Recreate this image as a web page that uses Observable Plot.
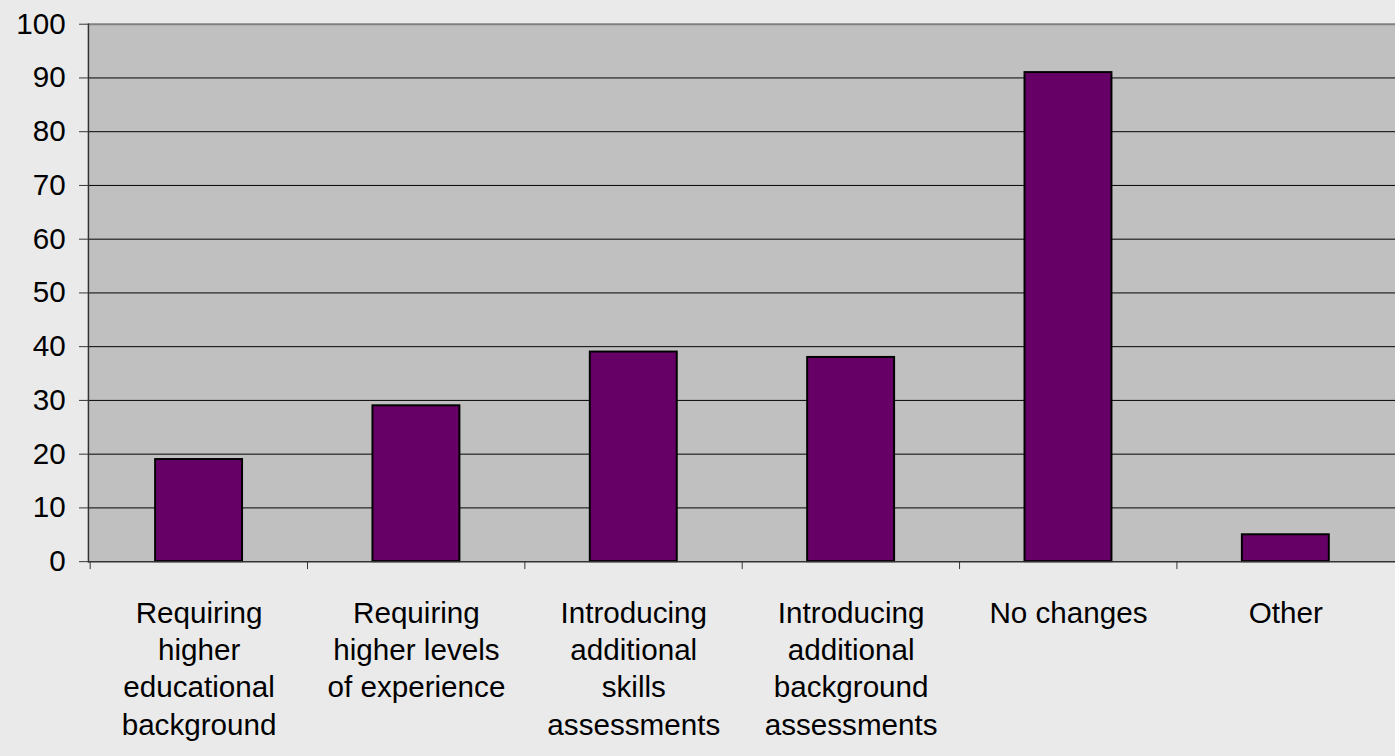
<!DOCTYPE html>
<html>
<head>
<meta charset="utf-8">
<script src="https://cdn.jsdelivr.net/npm/d3@7"></script>
<script src="https://cdn.jsdelivr.net/npm/@observablehq/plot@0.6"></script>
<style>
  html, body { margin: 0; padding: 0; background: #eaeaea; overflow: hidden; }
  #chart svg { display: block; }
</style>
</head>
<body>
<div id="chart"></div>
<script>
const categories = [
  "Requiring\nhigher\neducational\nbackground",
  "Requiring\nhigher levels\nof experience",
  "Introducing\nadditional\nskills\nassessments",
  "Introducing\nadditional\nbackground\nassessments",
  "No changes",
  "Other"
];
const values = [19, 29, 39, 38, 91, 5];
const yTicks = [0, 10, 20, 30, 40, 50, 60, 70, 80, 90, 100];
const gridTicks = [10, 20, 30, 40, 50, 60, 70, 80, 90];

const data = categories.map((c, i) => ({cat: c, value: values[i]}));

const W = 1412, ML = 89, MR = 0;
const step = (W - ML - MR) / categories.length;

const chart = Plot.plot({
  width: W,
  height: 756,
  marginLeft: ML,
  marginRight: MR,
  marginTop: 24,
  marginBottom: 188,
  style: {background: "#eaeaea", fontFamily: "'Liberation Sans', Arial, sans-serif", color: "black", fontSize: "30px"},
  x: {domain: categories, paddingInner: 0.6, paddingOuter: 0.3, label: null},
  y: {domain: [0, 100], label: null},
  marks: [
    Plot.frame({fill: "#c0c0c0", stroke: null}),
    Plot.ruleY(gridTicks, {stroke: "black", strokeWidth: 1, strokeOpacity: 1}),
    Plot.ruleY([100], {stroke: "#808080", strokeWidth: 2}),
    Plot.barY(data, {x: "cat", y: "value", fill: "#660066", stroke: "black", strokeWidth: 2}),
    Plot.ruleY([0], {stroke: "#333", strokeWidth: 1.5}),
    Plot.frame({anchor: "left", stroke: "#333", strokeWidth: 1.5}),
    Plot.axisY({ticks: yTicks, tickSize: 9, tickPadding: 14, fontSize: 30, tickFormat: d => String(d), stroke: "#333", fill: "black"}),
    Plot.axisX({tickSize: 8, tickFormat: () => "", dx: -step / 2, stroke: "#333"}),
    Plot.axisX({tickSize: 0, tickPadding: 35, fontSize: 30, lineHeight: 1.26, tickFormat: d => d, fill: "black"})
  ]
});
document.getElementById("chart").appendChild(chart);
</script>
</body>
</html>
